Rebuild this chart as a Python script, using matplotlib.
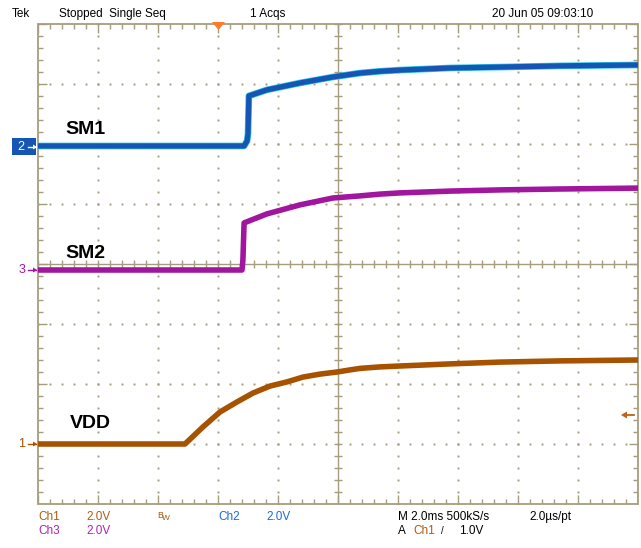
import matplotlib
matplotlib.use('Agg')
import matplotlib.pyplot as plt
from matplotlib.patches import Polygon, Rectangle
from matplotlib.collections import LineCollection
import numpy as np

# ---- data (time in ms, voltage in V relative to each channel's ground marker) ----
vdd_t = [0, 4.9, 5.5, 6.07, 6.63, 7.17, 7.73, 8.3, 8.83, 9.4, 9.97, 10.4, 10.73, 11.4, 12.07, 13.73, 15.4, 17.4, 20]
vdd_v = [0, 0, 0.57, 1.07, 1.4, 1.7, 1.93, 2.07, 2.23, 2.33, 2.4, 2.47, 2.52, 2.57, 2.6, 2.67, 2.73, 2.77, 2.8]

sm1_t = [0, 6.87, 6.97, 7.0, 7.03, 7.63, 8.73, 9.83, 10.73, 11.4, 12.07, 13.73, 15.4, 17.4, 20]
sm1_v = [0, 0, 0.17, 0.4, 1.67, 1.87, 2.1, 2.3, 2.43, 2.49, 2.53, 2.6, 2.63, 2.67, 2.7]

sm2_t = [0, 6.8, 6.83, 6.87, 7.63, 8.73, 9.83, 10.73, 11.4, 12.07, 13.73, 15.4, 17.4, 20]
sm2_v = [0, 0, 0.33, 1.57, 1.87, 2.17, 2.4, 2.47, 2.53, 2.57, 2.63, 2.67, 2.7, 2.73]

# channel ground marker positions (divisions from centre) and scale (V/div)
ch1_off, ch2_off, ch3_off = -3.0, 1.967, -0.1
volts_per_div = 2.0

W, H = 641, 548
fig = plt.figure(figsize=(W / 100, H / 100), dpi=100)
fig.patch.set_facecolor('white')


def fx(x):
    return x / W


def fy(y):
    return 1 - y / H


ax = fig.add_axes([38 / W, 1 - 504 / H, 600 / W, 480 / H])
ax.set_xlim(0, 20)
ax.set_ylim(-4, 4)
ax.axis('off')

GC = '#a59d7d'
PXX = 20 / 600.0   # ms per pixel
PXY = 8 / 480.0    # div per pixel

# dotted grid
dx, dy = [], []
for xv in np.arange(2, 20, 2):
    if abs(xv - 10) < 1e-6:
        continue
    for yv in np.arange(-4, 4.001, 0.2):
        dx.append(xv); dy.append(yv)
for yv in range(-3, 4):
    if yv == 0:
        continue
    for xv in np.arange(0, 20.001, 0.4):
        dx.append(xv); dy.append(yv)
ax.plot(dx, dy, ls='none', marker='s', ms=1.4, mec='none', mfc=GC, zorder=1)

segs = []
# centre lines
segs.append([(10, -4), (10, 4)])
segs.append([(0, 0), (20, 0)])
for xv in np.arange(0, 20.001, 0.4):
    segs.append([(xv, -4 * PXY), (xv, 4 * PXY)])
for yv in np.arange(-4, 4.001, 0.2):
    segs.append([(10 - 4 * PXX, yv), (10 + 4 * PXX, yv)])
# border ticks
for i, xv in enumerate(np.arange(0, 20.001, 0.4)):
    L = 9 if i % 5 == 0 else 5
    segs.append([(xv, 4), (xv, 4 - L * PXY)])
    segs.append([(xv, -4), (xv, -4 + L * PXY)])
for i, yv in enumerate(np.arange(-4, 4.001, 0.2)):
    L = 9 if i % 5 == 0 else 5
    segs.append([(0, yv), (L * PXX, yv)])
    segs.append([(20, yv), (20 - L * PXX, yv)])
ax.add_collection(LineCollection(segs, colors=GC, linewidths=1.0, zorder=1))
ax.add_patch(Rectangle((0, -4), 20, 8, fill=False, ec=GC, lw=1.3, zorder=1, clip_on=False))

BROWN = '#a65200'
BLUE = '#1556b4'
CYAN = '#30c8e8'
MAG = '#a0169e'

# traces
ax.plot(sm1_t, [ch2_off + v / volts_per_div for v in sm1_v], color=CYAN, lw=4.8, zorder=3,
        solid_joinstyle='round')
ax.plot(sm1_t, [ch2_off + v / volts_per_div for v in sm1_v], color=BLUE, lw=3.8, zorder=4,
        solid_joinstyle='round')
ax.plot(sm2_t, [ch3_off + v / volts_per_div for v in sm2_v], color=MAG, lw=4.0, zorder=4,
        solid_joinstyle='round')
ax.plot(vdd_t, [ch1_off + v / volts_per_div for v in vdd_v], color=BROWN, lw=4.0, zorder=4,
        solid_joinstyle='round')

# labels
LF = ['Liberation Sans', 'DejaVu Sans']
fig.text(fx(65), fy(130), 'SM1', fontsize=14, fontweight='bold', family=LF, va='center', ha='left')
fig.text(fx(65), fy(253), 'SM2', fontsize=14, fontweight='bold', family=LF, va='center', ha='left')
fig.text(fx(70), fy(424), 'VDD', fontsize=14, fontweight='bold', family=LF, va='center', ha='left')

# channel ground markers
fig.patches.append(Rectangle((fx(12), fy(155)), 24 / W, 17 / H, transform=fig.transFigure,
                             fc=BLUE, ec='none'))
fig.text(fx(21), fy(147), '2', color='white', fontsize=9, family=LF, va='center', ha='center')
fig.text(fx(22), fy(270), '3', color=MAG, fontsize=9, family=LF, va='center', ha='center')
fig.text(fx(22), fy(444), '1', color=BROWN, fontsize=9, family=LF, va='center', ha='center')
for yy, c in [(147, 'white'), (270, MAG), (444, BROWN)]:
    fig.add_artist(plt.Line2D([fx(28), fx(36)], [fy(yy), fy(yy)], color=c, lw=1.0))
    fig.patches.append(Polygon([(fx(37), fy(yy)), (fx(33), fy(yy - 2.5)), (fx(33), fy(yy + 2.5))],
                               closed=True, transform=fig.transFigure, fc=c, ec='none'))

# trigger position marker (top)
fig.patches.append(Polygon([(fx(212), fy(22)), (fx(225), fy(22)), (fx(218.5), fy(30))], closed=True,
                           transform=fig.transFigure, fc='#ff7a2a', ec='none', zorder=5))
# trigger level marker (right)
fig.add_artist(plt.Line2D([fx(624), fx(634)], [fy(415), fy(415)], color='#c0601a', lw=1.3))
fig.patches.append(Polygon([(fx(621), fy(415)), (fx(627), fy(411.5)), (fx(627), fy(418.5))], closed=True,
                           transform=fig.transFigure, fc='#c0601a', ec='none'))

# header & footer
NF = ['Liberation Sans Narrow', 'Liberation Sans', 'DejaVu Sans']
hs = 8.5
fig.text(fx(12), fy(14), 'Tek', fontsize=hs, family=NF, va='center')
fig.text(fx(59), fy(14), 'Stopped  Single Seq', fontsize=hs, family=NF, va='center')
fig.text(fx(250), fy(14), '1 Acqs', fontsize=hs, family=NF, va='center')
fig.text(fx(492), fy(14), '20 Jun 05 09:03:10', fontsize=hs, family=NF, va='center')

CH1C = '#b05a10'
CH2C = '#1a6ad0'
CH3C = '#b020b0'
r1, r2 = 517, 531
fig.text(fx(38), fy(r1), 'Ch1', color=CH1C, fontsize=hs, family=NF, va='center')
fig.text(fx(86), fy(r1), '2.0V', color=CH1C, fontsize=hs, family=NF, va='center')
fig.text(fx(157), fy(r1 - 2), 'B', color=CH1C, fontsize=6.5, family=NF, va='center')
fig.text(fx(162), fy(r1 + 1), 'W', color=CH1C, fontsize=6, family=NF, va='center')
fig.text(fx(218), fy(r1), 'Ch2', color=CH2C, fontsize=hs, family=NF, va='center')
fig.text(fx(266), fy(r1), '2.0V', color=CH2C, fontsize=hs, family=NF, va='center')
fig.text(fx(38), fy(r2), 'Ch3', color=CH3C, fontsize=hs, family=NF, va='center')
fig.text(fx(86), fy(r2), '2.0V', color=CH3C, fontsize=hs, family=NF, va='center')
fig.text(fx(398), fy(r1), 'M 2.0ms 500kS/s', fontsize=hs, family=NF, va='center')
fig.text(fx(529), fy(r1), '2.0µs/pt', fontsize=hs, family=NF, va='center')
fig.text(fx(398), fy(r2), 'A', fontsize=hs, family=NF, va='center')
fig.text(fx(413), fy(r2), 'Ch1', color=CH1C, fontsize=hs, family=NF, va='center')
fig.text(fx(441), fy(r2), '/', fontsize=7, family=NF, va='center')
fig.text(fx(459), fy(r2), '1.0V', fontsize=hs, family=NF, va='center')

fig.savefig('out.png', dpi=100, facecolor='white')
